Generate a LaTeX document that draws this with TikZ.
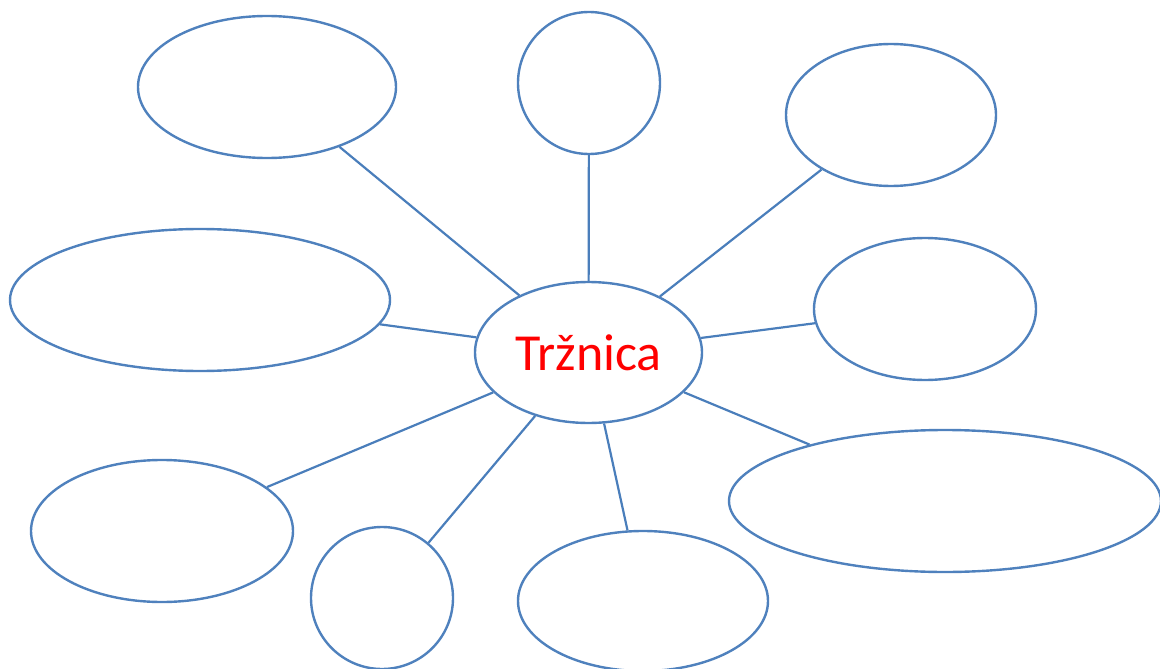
\documentclass[tikz,border=0pt]{standalone}
\usepackage{fontspec}
\setmainfont{Carlito}
\usetikzlibrary{shapes.geometric}
\definecolor{shapeblue}{HTML}{4F81BD}
\definecolor{lineblue}{HTML}{4A7EBB}
\begin{document}
\begin{tikzpicture}[x=1pt,y=-1pt,
  bub/.style={ellipse,draw=shapeblue,line width=2.4pt,inner sep=0pt},
  link/.style={draw=lineblue,line width=2.2pt}]
\useasboundingbox (0,0) rectangle (1160,669);
\node[bub,minimum width=227pt,minimum height=141pt,text=red,font=\fontsize{52}{60}\selectfont] (c) at (588.5,352.5) {Tržnica};
\node[bub,minimum width=258pt,minimum height=142pt] (tl) at (267,87) {};
\node[bub,minimum width=142pt,minimum height=142pt] (t) at (589,83) {};
\node[bub,minimum width=210pt,minimum height=142pt] (tr) at (891,115) {};
\node[bub,minimum width=380pt,minimum height=142pt] (l) at (200,300) {};
\node[bub,minimum width=222pt,minimum height=142pt] (r) at (925,309) {};
\node[bub,minimum width=432pt,minimum height=142pt] (br) at (945,501) {};
\node[bub,minimum width=262pt,minimum height=142pt] (bl) at (162,531) {};
\node[bub,minimum width=142pt,minimum height=142pt] (bc) at (382,598) {};
\node[bub,minimum width=250pt,minimum height=140pt] (bm) at (643,601) {};
\foreach \n in {tl,t,tr,l,r,br,bl,bc,bm}{\draw[link] (c) -- (\n);}
\end{tikzpicture}
\end{document}
